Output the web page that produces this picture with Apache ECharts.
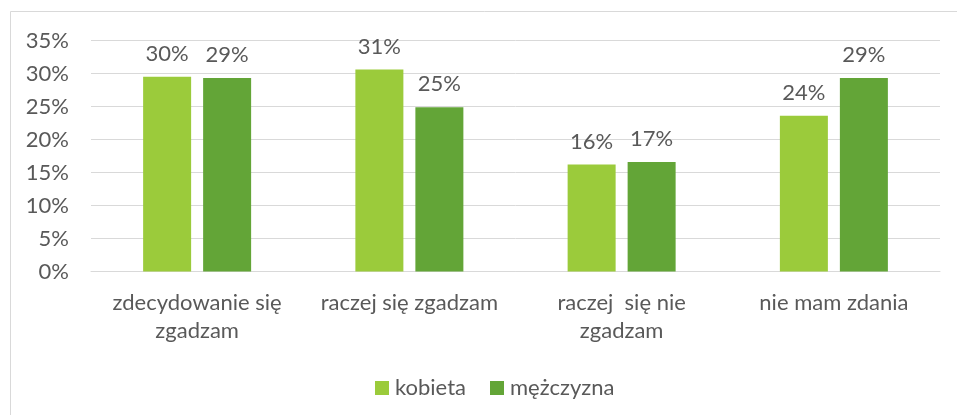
<!DOCTYPE html>
<html>
<head>
<meta charset="utf-8">
<script src="https://cdn.jsdelivr.net/npm/echarts@6/dist/echarts.min.js"></script>
<style>
  html, body { margin: 0; padding: 0; background: #fff; }
  #chart { width: 957px; height: 415px; }
</style>
</head>
<body>
<div id="chart"></div>
<script>
// Survey answers split by gender (share of respondents, %)
const categories = [
  'zdecydowanie się\nzgadzam',
  'raczej się zgadzam',
  'raczej  się nie\nzgadzam',
  'nie mam zdania'
];
const seriesNames = ['kobieta', 'mężczyzna'];
const kobieta = [29.5, 30.6, 16.2, 23.6];
const mezczyzna = [29.3, 24.9, 16.6, 29.3];
const yTicks = [0, 5, 10, 15, 20, 25, 30, 35];

const textColor = '#595959';
const fontFamily = 'Lato, "Liberation Sans", sans-serif';
const fontSize = 22;
const colors = ['#9BCB3B', '#63A537'];

const chart = echarts.init(document.getElementById('chart'), null, { renderer: 'canvas' });

const labelOpt = {
  show: true,
  position: 'top',
  distance: 12,
  color: textColor,
  fontSize: fontSize,
  fontFamily: fontFamily,
  formatter: p => Math.round(p.value) + '%'
};

chart.setOption({
  animation: false,
  backgroundColor: '#fff',
  graphic: [{
    type: 'rect',
    shape: { x: 10.5, y: 11.5, width: 1000, height: 500 },
    style: { fill: 'none', stroke: '#d9d9d9', lineWidth: 1 },
    silent: true,
    z: -10
  }],
  grid: { left: 91, right: 17, top: 40.5, bottom: 143.5, containLabel: false },
  legend: {
    data: seriesNames,
    bottom: 16,
    left: 375,
    padding: 0,
    itemWidth: 14,
    itemHeight: 14,
    itemGap: 24,
    icon: 'rect',
    textStyle: { color: textColor, fontSize: fontSize, fontFamily: fontFamily, padding: [0, 0, 0, 1] }
  },
  xAxis: {
    type: 'category',
    data: categories,
    axisLine: { show: true, lineStyle: { color: '#d9d9d9', width: 1 } },
    axisTick: { show: false },
    axisLabel: {
      color: textColor,
      fontSize: fontSize,
      fontFamily: fontFamily,
      lineHeight: 28,
      margin: 17,
      interval: 0
    }
  },
  yAxis: {
    type: 'value',
    min: yTicks[0],
    max: yTicks[yTicks.length - 1],
    interval: 5,
    axisLine: { show: false },
    axisTick: { show: false },
    splitLine: { lineStyle: { color: '#d9d9d9', width: 1 } },
    axisLabel: {
      color: textColor,
      fontSize: fontSize,
      fontFamily: fontFamily,
      margin: 22,
      formatter: v => v + '%'
    }
  },
  series: [
    {
      name: seriesNames[0],
      type: 'bar',
      data: kobieta,
      barWidth: 48,
      barGap: '25%',
      itemStyle: { color: colors[0] },
      label: labelOpt
    },
    {
      name: seriesNames[1],
      type: 'bar',
      data: mezczyzna,
      barWidth: 48,
      barGap: '25%',
      itemStyle: { color: colors[1] },
      label: labelOpt
    }
  ]
});
</script>
</body>
</html>
